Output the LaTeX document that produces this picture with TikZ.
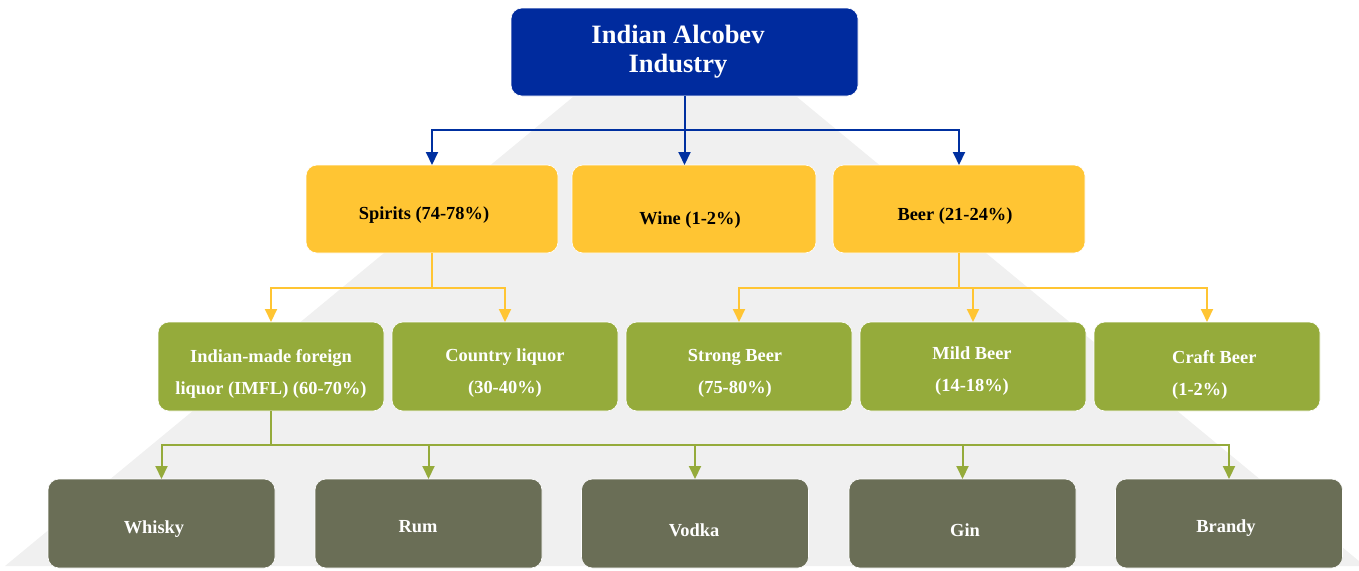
\documentclass[tikz,border=0pt]{standalone}
\usepackage{fontspec}
\setmainfont{Liberation Serif}
\usetikzlibrary{arrows.meta}
\definecolor{topblue}{RGB}{0,43,158}
\definecolor{lineblue}{RGB}{0,48,160}
\definecolor{ayellow}{RGB}{255,197,51}
\definecolor{agreen}{RGB}{149,171,59}
\definecolor{aolive}{RGB}{106,110,86}
\definecolor{bggray}{RGB}{240,240,240}
\begin{document}
\begin{tikzpicture}[x=1pt,y=-1pt,
  box/.style={rounded corners=11pt, inner sep=0pt, outer sep=0pt, draw=white, line width=0.6pt},
  lvlA/.style={box, fill=topblue, minimum width=347pt, minimum height=88pt},
  lvlB/.style={box, fill=ayellow, minimum width=252pt, minimum height=88pt},
  lvlC/.style={box, fill=agreen, minimum width=226pt, minimum height=89pt},
  lvlD/.style={box, fill=aolive, minimum width=227pt, minimum height=89pt},
  txt/.style={font=\bfseries\fontsize{18.4}{32}\selectfont, inner sep=0pt, align=center},
  ttl/.style={font=\bfseries\fontsize{26.5}{29.5}\selectfont, inner sep=0pt, align=center, text=white},
  conn/.style={line width=2pt},
  tip/.style={-{Triangle[width=12pt,length=13pt]}}
]
\useasboundingbox (0,0) rectangle (1359,570);
\begin{scope}
\clip (0,0) rectangle (1359,570);
\fill[bggray] (573,97) -- (797,97) -- (1365,566) -- (5,566) -- cycle;
\end{scope}

% boxes
\node[lvlA] (top) at (684.5,52) {};
\node[lvlB] (spirits) at (432,209) {};
\node[lvlB, minimum width=244pt] (wine) at (694,209) {};
\node[lvlB] (beer) at (959,209) {};
\node[lvlC] (imfl) at (271,366.5) {};
\node[lvlC] (country) at (505,366.5) {};
\node[lvlC] (strong) at (739,366.5) {};
\node[lvlC] (mild) at (973,366.5) {};
\node[lvlC] (craft) at (1207,366.5) {};
\node[lvlD] (whisky) at (161.5,523.5) {};
\node[lvlD] (rum) at (428.5,523.5) {};
\node[lvlD] (vodka) at (695,523.5) {};
\node[lvlD] (gin) at (962.5,523.5) {};
\node[lvlD] (brandy) at (1229,523.5) {};

% texts
\node[ttl] (topT) at (678,51.7) {Indian Alcobev\\Industry};
\node[txt, anchor=base] (spiritsT) at (424,219) {Spirits (74-78\%)};
\node[txt, anchor=base] (wineT) at (690,224) {Wine (1-2\%)};
\node[txt, anchor=base] (beerT) at (955,220) {Beer (21-24\%)};
\node[txt, text=white] (imflT) at (271,373.5) {Indian-made foreign\\liquor (IMFL) (60-70\%)};
\node[txt, text=white] (countryT) at (505,373) {Country liquor\\(30-40\%)};
\node[txt, text=white] (strongT) at (735,373) {Strong Beer\\(75-80\%)};
\node[txt, text=white] (mildT) at (972,371) {Mild Beer\\(14-18\%)};
\node[txt, text=white, align=left, anchor=west] (craftT) at (1172,374.5) {Craft Beer\\(1-2\%)};
\node[txt, text=white, anchor=base] (whiskyT) at (154,533) {Whisky};
\node[txt, text=white, anchor=base] (rumT) at (418,532) {Rum};
\node[txt, text=white, anchor=base] (vodkaT) at (694,536) {Vodka};
\node[txt, text=white, anchor=base] (ginT) at (965,536) {Gin};
\node[txt, text=white, anchor=base] (brandyT) at (1226,532) {Brandy};

% connectors level 1 -> 2
\coordinate (jA) at (684.5,130);
\draw[conn, lineblue] (top.south) -- (jA);
\draw[conn, lineblue, tip] (jA) -| (spirits.north);
\draw[conn, lineblue, tip] (jA) -| (beer.north);
\draw[conn, lineblue, tip] (top.south) -- (top.south |- wine.north);

% spirits -> level 3
\coordinate (jB) at (432,288);
\draw[conn, ayellow] (spirits.south) -- (jB);
\draw[conn, ayellow, tip] (jB) -| (imfl.north);
\draw[conn, ayellow, tip] (jB) -| (country.north);

% beer -> level 3
\coordinate (jC) at (959,288);
\draw[conn, ayellow] (beer.south) -- (jC);
\draw[conn, ayellow, tip] (jC) -| (strong.north);
\draw[conn, ayellow, tip] (jC) -| (mild.north);
\draw[conn, ayellow, tip] (jC) -| (craft.north);

% imfl -> level 4
\coordinate (jD) at (271,445);
\draw[conn, agreen] (imfl.south) -- (jD);
\draw[conn, agreen, tip] (jD) -| (whisky.north);
\draw[conn, agreen, tip] (jD) -| (rum.north);
\draw[conn, agreen, tip] (jD) -| (vodka.north);
\draw[conn, agreen, tip] (jD) -| (gin.north);
\draw[conn, agreen, tip] (jD) -| (brandy.north);
\end{tikzpicture}
\end{document}
